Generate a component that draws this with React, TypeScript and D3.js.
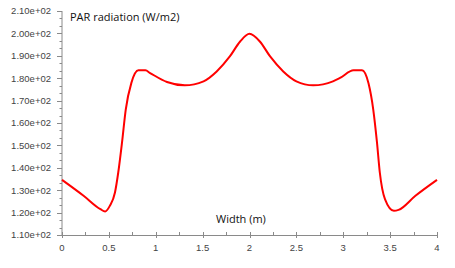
import React, { useMemo } from 'react';
import * as d3 from 'd3';

// PAR radiation profile across the width
const widthM = [
  0, 0.23, 0.41, 0.46, 0.51, 0.565, 0.6, 0.64, 0.68, 0.74, 0.815, 0.89, 0.94, 1.12, 1.31, 1.51,
  1.65, 1.79, 1.9, 2.0, 2.11, 2.22, 2.36, 2.5, 2.68, 2.89, 2.965, 3.11, 3.2, 3.27, 3.32, 3.36,
  3.39, 3.445, 3.54, 3.59, 3.77, 4.0,
];
const parValues = [
  134.6, 127.5, 121.5, 120.5, 123, 129, 137.9, 151.2, 166, 177.9, 183.5, 183.5, 182.3, 178.3,
  176.8, 178.6, 183, 189.7, 196.4, 199.8, 196.4, 189.7, 183, 178.6, 176.8, 178.6, 180.1, 183.5,
  183.5, 177.6, 166, 151.2, 137.9, 126, 120.8, 121.2, 127.5, 134.6,
];
const yTicks = [110, 120, 130, 140, 150, 160, 170, 180, 190, 200, 210];
const xTicks = [0, 0.5, 1, 1.5, 2, 2.5, 3, 3.5, 4];

const W = 455;
const H = 268;
const AXIS = '#8a8a8a';
const LABEL = '#444';

export default function App() {
  const x = d3.scaleLinear().domain([0, 4]).range([62, 437]);
  const y = d3.scaleLinear().domain([110, 210]).range([235, 11]);

  const path = useMemo(() => {
    const line = d3
      .line<number>()
      .x((_, i) => x(widthM[i]))
      .y((d) => y(d))
      .curve(d3.curveMonotoneX);
    return line(parValues) ?? '';
  }, []);

  const yMinor = d3.range(110, 210.001, 10 / 3);
  const xMinor = d3.range(0, 4.001, 0.25);

  return (
    <svg
      width={W}
      height={H}
      style={{ position: 'absolute', left: 0, top: 0, background: '#fff', display: 'block' }}
    >
      {/* y axis */}
      <line x1={x(0)} x2={x(0)} y1={y(210)} y2={y(110)} stroke={AXIS} />
      {yMinor.map((v) => (
        <line key={`ym${v}`} x1={x(0) - 2.5} x2={x(0)} y1={Math.round(y(v)) + 0.5} y2={Math.round(y(v)) + 0.5} stroke={AXIS} />
      ))}
      {yTicks.map((v) => (
        <g key={`y${v}`}>
          <line x1={x(0) - 5} x2={x(0)} y1={Math.round(y(v)) + 0.5} y2={Math.round(y(v)) + 0.5} stroke={AXIS} />
          <text
            x={x(0) - 11}
            y={y(v)}
            dy="0.35em"
            textAnchor="end"
            fontFamily="'Liberation Sans', Arial, sans-serif"
            fontSize={9.5}
            fill={LABEL}
          >
            {`${(v / 100).toFixed(2)}e+02`}
          </text>
        </g>
      ))}

      {/* x axis */}
      <line x1={x(0)} x2={x(4)} y1={y(110) + 0.5} y2={y(110) + 0.5} stroke={AXIS} />
      {xMinor.map((v) => (
        <line key={`xm${v}`} x1={Math.round(x(v)) + 0.5} x2={Math.round(x(v)) + 0.5} y1={y(110) - 3} y2={y(110)} stroke={AXIS} />
      ))}
      {xTicks.map((v) => (
        <g key={`x${v}`}>
          <line x1={Math.round(x(v)) + 0.5} x2={Math.round(x(v)) + 0.5} y1={y(110) - 3} y2={y(110) + 3} stroke={AXIS} />
          <text
            x={x(v)}
            y={y(110) + 16}
            textAnchor="middle"
            fontFamily="'Liberation Sans', Arial, sans-serif"
            fontSize={9.5}
            fill={LABEL}
          >
            {String(v)}
          </text>
        </g>
      ))}

      <path d={path} fill="none" stroke="#ff0000" strokeWidth={2} strokeLinejoin="round" />

      <text x={70} y={21} fontFamily="'Open Sans', sans-serif" fontSize={11} fill="#111">
        PAR radiation (W/m2)
      </text>
      <text x={216} y={223} fontFamily="'Open Sans', sans-serif" fontSize={11} fill="#111">
        Width (m)
      </text>
    </svg>
  );
}
